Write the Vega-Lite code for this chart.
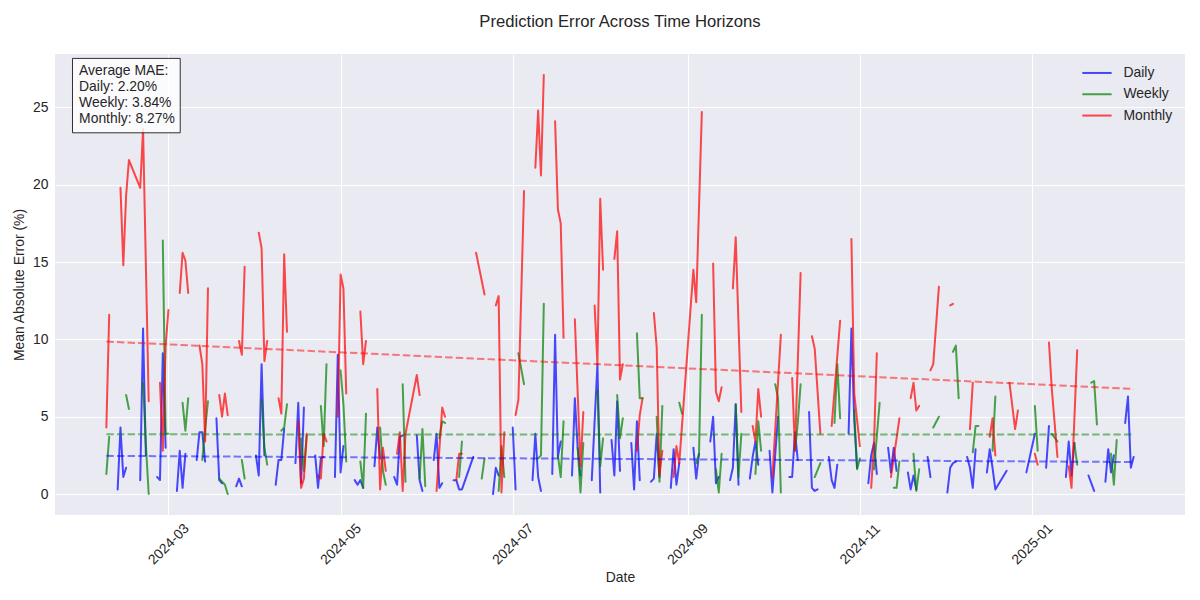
{
  "$schema": "https://vega.github.io/schema/vega-lite/v6.json",
  "width": 1130,
  "height": 461,
  "autosize": {"type": "none"},
  "padding": {"left": 55, "top": 54, "right": 15, "bottom": 85},
  "background": "white",
  "title": {"text": "Prediction Error Across Time Horizons", "fontSize": 16.67, "fontWeight": "normal", "color": "#262626", "offset": 23, "font": "Liberation Sans", "anchor": "middle"},
  "config": {
    "view": {"fill": "#EAEAF2", "stroke": null},
    "font": "Liberation Sans",
    "axis": {"grid": true, "gridColor": "#FFFFFF", "gridWidth": 1, "gridOpacity": 1, "domain": false, "ticks": false, "labelFont": "Liberation Sans", "labelFontSize": 13.9, "labelColor": "#262626", "titleFont": "Liberation Sans", "titleFontSize": 13.9, "titleColor": "#262626", "titleFontWeight": "normal"},
    "legend": {"orient": "top-right", "offset": 12, "padding": 0, "rowPadding": 6.3, "symbolType": "M-2.93,0H2.93", "symbolSize": 100, "symbolStrokeWidth": 2, "symbolOpacity": 0.7, "labelFontSize": 13.9, "labelFont": "Liberation Sans", "labelColor": "#262626", "labelOffset": 19.6}
  },
  "datasets": {
    "daily": [
      {"d":"2024-02-12","v":0.3},{"d":"2024-02-13","v":4.3},{"d":"2024-02-14","v":1.1},{"d":"2024-02-15","v":1.7},{"d":"2024-02-16","v":null},
      {"d":"2024-02-20","v":0.9},{"d":"2024-02-21","v":10.7},{"d":"2024-02-22","v":2.5},{"d":"2024-02-23","v":null},
      {"d":"2024-02-26","v":1.1},{"d":"2024-02-27","v":0.9},{"d":"2024-02-28","v":9.1},{"d":"2024-02-29","v":3.0},{"d":"2024-03-01","v":null},
      {"d":"2024-03-04","v":0.2},{"d":"2024-03-05","v":2.8},{"d":"2024-03-06","v":0.4},{"d":"2024-03-07","v":2.6},{"d":"2024-03-08","v":null},
      {"d":"2024-03-11","v":2.2},{"d":"2024-03-12","v":4.0},{"d":"2024-03-13","v":4.0},{"d":"2024-03-14","v":2.1},{"d":"2024-03-15","v":null},
      {"d":"2024-03-18","v":4.9},{"d":"2024-03-19","v":0.9},{"d":"2024-03-20","v":0.7},{"d":"2024-03-21","v":null},
      {"d":"2024-03-25","v":0.5},{"d":"2024-03-26","v":1.0},{"d":"2024-03-27","v":0.5},{"d":"2024-03-28","v":null},
      {"d":"2024-04-01","v":2.5},{"d":"2024-04-02","v":1.2},{"d":"2024-04-03","v":8.4},{"d":"2024-04-04","v":2.5},{"d":"2024-04-05","v":null},
      {"d":"2024-04-08","v":0.6},{"d":"2024-04-09","v":2.2},{"d":"2024-04-10","v":2.2},{"d":"2024-04-11","v":4.2},{"d":"2024-04-12","v":null},
      {"d":"2024-04-15","v":2.0},{"d":"2024-04-16","v":5.9},{"d":"2024-04-17","v":0.7},{"d":"2024-04-18","v":5.6},{"d":"2024-04-19","v":null},
      {"d":"2024-04-22","v":2.5},{"d":"2024-04-23","v":0.4},{"d":"2024-04-24","v":2.3},{"d":"2024-04-25","v":2.4},{"d":"2024-04-26","v":null},
      {"d":"2024-04-29","v":1.1},{"d":"2024-04-30","v":9.0},{"d":"2024-05-01","v":1.4},{"d":"2024-05-02","v":3.1},{"d":"2024-05-03","v":null},
      {"d":"2024-05-06","v":0.9},{"d":"2024-05-07","v":0.6},{"d":"2024-05-08","v":0.9},{"d":"2024-05-09","v":0.4},{"d":"2024-05-10","v":null},
      {"d":"2024-05-13","v":1.8},{"d":"2024-05-14","v":4.3},{"d":"2024-05-15","v":2.3},{"d":"2024-05-16","v":null},
      {"d":"2024-05-20","v":1.1},{"d":"2024-05-21","v":0.6},{"d":"2024-05-22","v":3.7},{"d":"2024-05-23","v":3.8},{"d":"2024-05-24","v":null},
      {"d":"2024-05-28","v":3.8},{"d":"2024-05-29","v":0.9},{"d":"2024-05-30","v":0.2},{"d":"2024-05-31","v":null},
      {"d":"2024-06-03","v":2.2},{"d":"2024-06-04","v":3.9},{"d":"2024-06-05","v":0.4},{"d":"2024-06-06","v":0.7},{"d":"2024-06-07","v":null},
      {"d":"2024-06-10","v":0.9},{"d":"2024-06-11","v":0.9},{"d":"2024-06-12","v":0.3},{"d":"2024-06-13","v":0.3},{"d":"2024-06-17","v":2.4},{"d":"2024-06-18","v":null},
      {"d":"2024-06-24","v":0.0},{"d":"2024-06-25","v":1.7},{"d":"2024-06-26","v":1.2},{"d":"2024-06-27","v":null},
      {"d":"2024-07-01","v":4.3},{"d":"2024-07-02","v":0.3},{"d":"2024-07-03","v":null},
      {"d":"2024-07-08","v":0.9},{"d":"2024-07-09","v":3.9},{"d":"2024-07-10","v":1.1},{"d":"2024-07-11","v":0.2},{"d":"2024-07-12","v":null},
      {"d":"2024-07-15","v":1.3},{"d":"2024-07-16","v":10.3},{"d":"2024-07-17","v":2.4},{"d":"2024-07-18","v":3.4},{"d":"2024-07-19","v":null},
      {"d":"2024-07-22","v":1.2},{"d":"2024-07-23","v":6.2},{"d":"2024-07-24","v":3.0},{"d":"2024-07-25","v":1.2},{"d":"2024-07-26","v":null},
      {"d":"2024-07-29","v":0.9},{"d":"2024-07-31","v":8.4},{"d":"2024-08-01","v":0.1},{"d":"2024-08-02","v":null},
      {"d":"2024-08-05","v":3.5},{"d":"2024-08-06","v":1.2},{"d":"2024-08-07","v":6.0},{"d":"2024-08-08","v":1.5},{"d":"2024-08-09","v":null},
      {"d":"2024-08-12","v":3.3},{"d":"2024-08-13","v":0.3},{"d":"2024-08-14","v":4.7},{"d":"2024-08-15","v":0.9},{"d":"2024-08-16","v":null},
      {"d":"2024-08-19","v":0.8},{"d":"2024-08-20","v":1.0},{"d":"2024-08-21","v":3.9},{"d":"2024-08-22","v":1.1},{"d":"2024-08-23","v":null},
      {"d":"2024-08-26","v":0.4},{"d":"2024-08-27","v":2.9},{"d":"2024-08-28","v":0.6},{"d":"2024-08-29","v":2.0},{"d":"2024-08-30","v":null},
      {"d":"2024-09-03","v":3.0},{"d":"2024-09-04","v":1.0},{"d":"2024-09-05","v":2.6},{"d":"2024-09-06","v":null},
      {"d":"2024-09-09","v":3.4},{"d":"2024-09-10","v":5.0},{"d":"2024-09-11","v":0.7},{"d":"2024-09-12","v":1.1},{"d":"2024-09-13","v":null},
      {"d":"2024-09-16","v":0.9},{"d":"2024-09-17","v":1.7},{"d":"2024-09-18","v":5.8},{"d":"2024-09-19","v":0.6},{"d":"2024-09-20","v":null},
      {"d":"2024-09-23","v":1.0},{"d":"2024-09-24","v":2.4},{"d":"2024-09-25","v":3.4},{"d":"2024-09-26","v":1.9},{"d":"2024-09-27","v":null},
      {"d":"2024-09-30","v":2.8},{"d":"2024-10-01","v":0.1},{"d":"2024-10-03","v":5.0},{"d":"2024-10-04","v":null},
      {"d":"2024-10-07","v":1.1},{"d":"2024-10-08","v":1.1},{"d":"2024-10-09","v":4.0},{"d":"2024-10-10","v":2.2},{"d":"2024-10-11","v":null},
      {"d":"2024-10-14","v":5.3},{"d":"2024-10-15","v":0.4},{"d":"2024-10-16","v":0.2},{"d":"2024-10-17","v":0.3},{"d":"2024-10-18","v":null},
      {"d":"2024-10-21","v":2.4},{"d":"2024-10-22","v":0.9},{"d":"2024-10-23","v":0.4},{"d":"2024-10-24","v":1.9},{"d":"2024-10-25","v":null},
      {"d":"2024-10-28","v":3.9},{"d":"2024-10-29","v":10.7},{"d":"2024-10-30","v":4.8},{"d":"2024-10-31","v":1.7},{"d":"2024-11-01","v":null},
      {"d":"2024-11-04","v":0.7},{"d":"2024-11-05","v":2.5},{"d":"2024-11-06","v":3.3},{"d":"2024-11-07","v":1.3},{"d":"2024-11-08","v":null},
      {"d":"2024-11-11","v":3.0},{"d":"2024-11-12","v":1.4},{"d":"2024-11-13","v":3.0},{"d":"2024-11-14","v":1.5},{"d":"2024-11-15","v":null},
      {"d":"2024-11-18","v":1.4},{"d":"2024-11-19","v":0.3},{"d":"2024-11-20","v":1.2},{"d":"2024-11-21","v":0.3},{"d":"2024-11-22","v":null},
      {"d":"2024-11-25","v":2.4},{"d":"2024-11-26","v":1.1},{"d":"2024-11-27","v":null},
      {"d":"2024-12-02","v":0.1},{"d":"2024-12-03","v":1.7},{"d":"2024-12-04","v":2.0},{"d":"2024-12-05","v":2.1},{"d":"2024-12-06","v":null},
      {"d":"2024-12-09","v":2.4},{"d":"2024-12-10","v":1.7},{"d":"2024-12-11","v":0.4},{"d":"2024-12-12","v":2.9},{"d":"2024-12-13","v":null},
      {"d":"2024-12-16","v":1.4},{"d":"2024-12-17","v":2.9},{"d":"2024-12-18","v":1.7},{"d":"2024-12-19","v":0.3},{"d":"2024-12-23","v":1.5},{"d":"2024-12-24","v":null},
      {"d":"2024-12-30","v":1.4},{"d":"2025-01-02","v":3.9},{"d":"2025-01-03","v":null},
      {"d":"2025-01-06","v":1.7},{"d":"2025-01-07","v":4.4},{"d":"2025-01-08","v":null},
      {"d":"2025-01-13","v":1.1},{"d":"2025-01-14","v":3.4},{"d":"2025-01-15","v":1.2},{"d":"2025-01-16","v":3.3},{"d":"2025-01-17","v":null},
      {"d":"2025-01-21","v":1.2},{"d":"2025-01-23","v":0.2},{"d":"2025-01-24","v":null},
      {"d":"2025-01-27","v":0.8},{"d":"2025-01-28","v":2.9},{"d":"2025-01-29","v":1.4},{"d":"2025-01-30","v":2.5},{"d":"2025-01-31","v":null},
      {"d":"2025-02-03","v":4.6},{"d":"2025-02-04","v":6.3},{"d":"2025-02-05","v":1.7},{"d":"2025-02-06","v":2.4}
    ],
    "weekly": [
      {"d":"2024-02-08","v":1.3},{"d":"2024-02-09","v":3.7},{"d":"2024-02-10","v":null},
      {"d":"2024-02-15","v":6.4},{"d":"2024-02-16","v":5.5},{"d":"2024-02-17","v":null},
      {"d":"2024-02-21","v":7.2},{"d":"2024-02-22","v":3.2},{"d":"2024-02-23","v":0.0},{"d":"2024-02-24","v":null},
      {"d":"2024-02-28","v":16.4},{"d":"2024-02-29","v":3.9},{"d":"2024-03-01","v":3.9},{"d":"2024-03-02","v":null},
      {"d":"2024-03-06","v":5.9},{"d":"2024-03-07","v":4.1},{"d":"2024-03-08","v":6.2},{"d":"2024-03-09","v":null},
      {"d":"2024-03-13","v":2.2},{"d":"2024-03-14","v":4.2},{"d":"2024-03-15","v":6.0},{"d":"2024-03-16","v":null},
      {"d":"2024-03-19","v":1.0},{"d":"2024-03-21","v":0.6},{"d":"2024-03-22","v":0.0},{"d":"2024-03-23","v":null},
      {"d":"2024-03-27","v":2.2},{"d":"2024-03-28","v":1.0},{"d":"2024-03-29","v":null},
      {"d":"2024-04-03","v":6.1},{"d":"2024-04-04","v":3.0},{"d":"2024-04-05","v":1.9},{"d":"2024-04-06","v":null},
      {"d":"2024-04-10","v":4.1},{"d":"2024-04-11","v":4.3},{"d":"2024-04-12","v":5.8},{"d":"2024-04-13","v":null},
      {"d":"2024-04-17","v":3.6},{"d":"2024-04-18","v":1.5},{"d":"2024-04-19","v":3.8},{"d":"2024-04-20","v":null},
      {"d":"2024-04-24","v":5.7},{"d":"2024-04-25","v":3.1},{"d":"2024-04-26","v":8.4},{"d":"2024-04-27","v":null},
      {"d":"2024-05-01","v":8.0},{"d":"2024-05-02","v":5.8},{"d":"2024-05-03","v":2.1},{"d":"2024-05-04","v":null},
      {"d":"2024-05-08","v":2.1},{"d":"2024-05-09","v":0.4},{"d":"2024-05-10","v":5.2},{"d":"2024-05-11","v":null},
      {"d":"2024-05-15","v":4.3},{"d":"2024-05-16","v":1.5},{"d":"2024-05-17","v":0.6},{"d":"2024-05-18","v":null},
      {"d":"2024-05-23","v":7.1},{"d":"2024-05-24","v":0.8},{"d":"2024-05-25","v":null},
      {"d":"2024-05-29","v":1.0},{"d":"2024-05-30","v":4.2},{"d":"2024-05-31","v":0.5},{"d":"2024-06-01","v":null},
      {"d":"2024-06-05","v":3.6},{"d":"2024-06-06","v":4.7},{"d":"2024-06-07","v":4.6},{"d":"2024-06-08","v":null},
      {"d":"2024-06-12","v":1.1},{"d":"2024-06-13","v":3.4},{"d":"2024-06-14","v":null},
      {"d":"2024-06-20","v":1.0},{"d":"2024-06-21","v":2.3},{"d":"2024-06-22","v":null},
      {"d":"2024-06-26","v":0.2},{"d":"2024-06-27","v":3.1},{"d":"2024-06-28","v":1.1},{"d":"2024-06-29","v":null},
      {"d":"2024-07-03","v":9.1},{"d":"2024-07-05","v":7.1},{"d":"2024-07-06","v":null},
      {"d":"2024-07-10","v":2.3},{"d":"2024-07-11","v":2.5},{"d":"2024-07-12","v":12.3},{"d":"2024-07-13","v":null},
      {"d":"2024-07-17","v":2.5},{"d":"2024-07-18","v":1.1},{"d":"2024-07-19","v":4.7},{"d":"2024-07-20","v":null},
      {"d":"2024-07-24","v":3.0},{"d":"2024-07-25","v":0.1},{"d":"2024-07-26","v":3.3},{"d":"2024-07-27","v":null},
      {"d":"2024-07-31","v":6.7},{"d":"2024-08-01","v":1.8},{"d":"2024-08-02","v":3.6},{"d":"2024-08-03","v":null},
      {"d":"2024-08-07","v":6.4},{"d":"2024-08-08","v":3.6},{"d":"2024-08-09","v":4.9},{"d":"2024-08-10","v":null},
      {"d":"2024-08-14","v":10.4},{"d":"2024-08-15","v":6.2},{"d":"2024-08-16","v":6.2},{"d":"2024-08-17","v":null},
      {"d":"2024-08-21","v":5.0},{"d":"2024-08-22","v":0.8},{"d":"2024-08-23","v":5.7},{"d":"2024-08-24","v":null},
      {"d":"2024-08-29","v":5.9},{"d":"2024-08-30","v":5.2},{"d":"2024-08-31","v":null},
      {"d":"2024-09-04","v":2.0},{"d":"2024-09-05","v":2.6},{"d":"2024-09-06","v":11.6},{"d":"2024-09-07","v":null},
      {"d":"2024-09-11","v":1.6},{"d":"2024-09-12","v":0.1},{"d":"2024-09-13","v":2.6},{"d":"2024-09-14","v":null},
      {"d":"2024-09-18","v":5.8},{"d":"2024-09-19","v":1.1},{"d":"2024-09-20","v":3.9},{"d":"2024-09-21","v":null},
      {"d":"2024-09-25","v":1.3},{"d":"2024-09-26","v":4.7},{"d":"2024-09-27","v":2.8},{"d":"2024-09-28","v":null},
      {"d":"2024-10-02","v":7.1},{"d":"2024-10-03","v":6.2},{"d":"2024-10-04","v":0.1},{"d":"2024-10-05","v":null},
      {"d":"2024-10-09","v":2.8},{"d":"2024-10-10","v":4.6},{"d":"2024-10-11","v":7.1},{"d":"2024-10-12","v":null},
      {"d":"2024-10-16","v":1.1},{"d":"2024-10-18","v":2.0},{"d":"2024-10-19","v":null},
      {"d":"2024-10-23","v":4.6},{"d":"2024-10-24","v":8.4},{"d":"2024-10-25","v":4.9},{"d":"2024-10-26","v":null},
      {"d":"2024-10-30","v":5.4},{"d":"2024-10-31","v":1.6},{"d":"2024-11-01","v":2.3},{"d":"2024-11-02","v":null},
      {"d":"2024-11-06","v":1.6},{"d":"2024-11-08","v":5.9},{"d":"2024-11-09","v":null},
      {"d":"2024-11-13","v":0.4},{"d":"2024-11-14","v":0.4},{"d":"2024-11-15","v":2.1},{"d":"2024-11-16","v":null},
      {"d":"2024-11-20","v":2.6},{"d":"2024-11-21","v":0.2},{"d":"2024-11-22","v":1.6},{"d":"2024-11-23","v":null},
      {"d":"2024-11-27","v":4.3},{"d":"2024-11-29","v":5.0},{"d":"2024-11-30","v":null},
      {"d":"2024-12-04","v":9.2},{"d":"2024-12-05","v":9.6},{"d":"2024-12-06","v":6.2},{"d":"2024-12-07","v":null},
      {"d":"2024-12-11","v":2.7},{"d":"2024-12-12","v":4.4},{"d":"2024-12-13","v":4.4},{"d":"2024-12-14","v":null},
      {"d":"2024-12-18","v":2.8},{"d":"2024-12-19","v":6.3},{"d":"2024-12-20","v":null},
      {"d":"2025-01-02","v":5.7},{"d":"2025-01-03","v":2.8},{"d":"2025-01-04","v":null},
      {"d":"2025-01-08","v":3.9},{"d":"2025-01-10","v":3.4},{"d":"2025-01-11","v":null},
      {"d":"2025-01-16","v":3.3},{"d":"2025-01-17","v":1.9},{"d":"2025-01-18","v":null},
      {"d":"2025-01-22","v":7.2},{"d":"2025-01-23","v":7.3},{"d":"2025-01-24","v":4.5},{"d":"2025-01-25","v":null},
      {"d":"2025-01-29","v":2.6},{"d":"2025-01-30","v":0.6},{"d":"2025-01-31","v":3.5}
    ],
    "monthly": [
      {"d":"2024-02-08","v":4.3},{"d":"2024-02-09","v":11.6},{"d":"2024-02-10","v":null},
      {"d":"2024-02-13","v":19.8},{"d":"2024-02-14","v":14.8},{"d":"2024-02-15","v":19.3},{"d":"2024-02-16","v":21.6},{"d":"2024-02-20","v":19.8},{"d":"2024-02-21","v":23.6},{"d":"2024-02-23","v":6.0},{"d":"2024-02-24","v":null},
      {"d":"2024-02-27","v":7.2},{"d":"2024-02-28","v":2.8},{"d":"2024-02-29","v":9.6},{"d":"2024-03-01","v":11.9},{"d":"2024-03-02","v":null},
      {"d":"2024-03-05","v":13.0},{"d":"2024-03-06","v":15.6},{"d":"2024-03-07","v":15.1},{"d":"2024-03-08","v":13.0},{"d":"2024-03-09","v":null},
      {"d":"2024-03-12","v":9.6},{"d":"2024-03-13","v":8.4},{"d":"2024-03-14","v":3.4},{"d":"2024-03-15","v":13.3},{"d":"2024-03-16","v":null},
      {"d":"2024-03-19","v":6.4},{"d":"2024-03-20","v":5.0},{"d":"2024-03-21","v":6.5},{"d":"2024-03-22","v":5.1},{"d":"2024-03-23","v":null},
      {"d":"2024-03-26","v":9.9},{"d":"2024-03-27","v":9.0},{"d":"2024-03-28","v":14.7},{"d":"2024-03-29","v":null},
      {"d":"2024-04-02","v":16.9},{"d":"2024-04-03","v":15.9},{"d":"2024-04-04","v":8.6},{"d":"2024-04-05","v":9.9},{"d":"2024-04-06","v":null},
      {"d":"2024-04-09","v":6.2},{"d":"2024-04-10","v":5.2},{"d":"2024-04-11","v":15.5},{"d":"2024-04-12","v":10.5},{"d":"2024-04-13","v":null},
      {"d":"2024-04-16","v":4.7},{"d":"2024-04-17","v":0.4},{"d":"2024-04-18","v":1.0},{"d":"2024-04-19","v":3.9},{"d":"2024-04-20","v":null},
      {"d":"2024-04-23","v":1.2},{"d":"2024-04-24","v":1.0},{"d":"2024-04-25","v":3.9},{"d":"2024-04-26","v":3.4},{"d":"2024-04-27","v":null},
      {"d":"2024-04-30","v":5.0},{"d":"2024-05-01","v":14.2},{"d":"2024-05-02","v":13.3},{"d":"2024-05-03","v":6.5},{"d":"2024-05-04","v":null},
      {"d":"2024-05-08","v":11.8},{"d":"2024-05-09","v":8.4},{"d":"2024-05-10","v":9.9},{"d":"2024-05-11","v":null},
      {"d":"2024-05-14","v":6.8},{"d":"2024-05-15","v":0.3},{"d":"2024-05-16","v":3.0},{"d":"2024-05-17","v":1.5},{"d":"2024-05-18","v":null},
      {"d":"2024-05-21","v":2.6},{"d":"2024-05-22","v":4.0},{"d":"2024-05-23","v":0.2},{"d":"2024-05-24","v":3.9},{"d":"2024-05-28","v":7.7},{"d":"2024-05-29","v":6.4},{"d":"2024-05-30","v":null},
      {"d":"2024-06-04","v":0.2},{"d":"2024-06-06","v":5.6},{"d":"2024-06-07","v":5.0},{"d":"2024-06-08","v":null},
      {"d":"2024-06-11","v":0.9},{"d":"2024-06-12","v":2.6},{"d":"2024-06-13","v":2.6},{"d":"2024-06-14","v":null},
      {"d":"2024-06-18","v":15.6},{"d":"2024-06-21","v":12.9},{"d":"2024-06-22","v":null},
      {"d":"2024-06-25","v":12.2},{"d":"2024-06-26","v":12.8},{"d":"2024-06-27","v":0.1},{"d":"2024-06-28","v":4.0},{"d":"2024-06-29","v":null},
      {"d":"2024-07-02","v":5.1},{"d":"2024-07-03","v":6.1},{"d":"2024-07-05","v":19.6},{"d":"2024-07-06","v":null},
      {"d":"2024-07-09","v":21.1},{"d":"2024-07-10","v":24.8},{"d":"2024-07-11","v":20.6},{"d":"2024-07-12","v":27.1},{"d":"2024-07-13","v":null},
      {"d":"2024-07-16","v":24.1},{"d":"2024-07-17","v":18.4},{"d":"2024-07-18","v":17.5},{"d":"2024-07-19","v":10.1},{"d":"2024-07-20","v":null},
      {"d":"2024-07-23","v":11.3},{"d":"2024-07-25","v":1.8},{"d":"2024-07-26","v":5.3},{"d":"2024-07-27","v":null},
      {"d":"2024-07-30","v":12.2},{"d":"2024-07-31","v":8.4},{"d":"2024-08-01","v":19.1},{"d":"2024-08-02","v":14.5},{"d":"2024-08-03","v":null},
      {"d":"2024-08-06","v":15.2},{"d":"2024-08-07","v":17.0},{"d":"2024-08-08","v":7.4},{"d":"2024-08-09","v":8.4},{"d":"2024-08-10","v":null},
      {"d":"2024-08-14","v":2.8},{"d":"2024-08-15","v":5.1},{"d":"2024-08-16","v":6.2},{"d":"2024-08-17","v":null},
      {"d":"2024-08-20","v":11.7},{"d":"2024-08-21","v":9.5},{"d":"2024-08-22","v":1.2},{"d":"2024-08-23","v":2.8},{"d":"2024-08-24","v":null},
      {"d":"2024-08-27","v":1.1},{"d":"2024-08-28","v":3.1},{"d":"2024-08-29","v":2.0},{"d":"2024-09-03","v":14.5},{"d":"2024-09-04","v":12.4},{"d":"2024-09-06","v":24.7},{"d":"2024-09-07","v":null},
      {"d":"2024-09-10","v":14.9},{"d":"2024-09-11","v":6.6},{"d":"2024-09-12","v":6.0},{"d":"2024-09-13","v":6.9},{"d":"2024-09-14","v":null},
      {"d":"2024-09-17","v":13.3},{"d":"2024-09-18","v":16.6},{"d":"2024-09-20","v":5.3},{"d":"2024-09-21","v":null},
      {"d":"2024-09-24","v":4.4},{"d":"2024-09-25","v":3.4},{"d":"2024-09-26","v":6.8},{"d":"2024-09-27","v":5.0},{"d":"2024-09-28","v":null},
      {"d":"2024-10-01","v":1.1},{"d":"2024-10-04","v":10.3},{"d":"2024-10-05","v":null},
      {"d":"2024-10-08","v":7.5},{"d":"2024-10-09","v":2.8},{"d":"2024-10-11","v":14.3},{"d":"2024-10-12","v":null},
      {"d":"2024-10-15","v":10.2},{"d":"2024-10-16","v":9.4},{"d":"2024-10-18","v":3.9},{"d":"2024-10-19","v":null},
      {"d":"2024-10-22","v":4.4},{"d":"2024-10-25","v":11.2},{"d":"2024-10-26","v":null},
      {"d":"2024-10-29","v":16.5},{"d":"2024-10-30","v":6.5},{"d":"2024-11-01","v":3.1},{"d":"2024-11-02","v":null},
      {"d":"2024-11-05","v":0.4},{"d":"2024-11-06","v":3.3},{"d":"2024-11-07","v":9.1},{"d":"2024-11-08","v":null},
      {"d":"2024-11-12","v":1.1},{"d":"2024-11-14","v":3.6},{"d":"2024-11-15","v":4.9},{"d":"2024-11-16","v":null},
      {"d":"2024-11-19","v":6.2},{"d":"2024-11-20","v":7.2},{"d":"2024-11-21","v":5.4},{"d":"2024-11-22","v":5.7},{"d":"2024-11-23","v":null},
      {"d":"2024-11-26","v":8.0},{"d":"2024-11-27","v":8.4},{"d":"2024-11-29","v":13.4},{"d":"2024-11-30","v":null},
      {"d":"2024-12-03","v":12.2},{"d":"2024-12-04","v":12.3},{"d":"2024-12-05","v":null},
      {"d":"2024-12-10","v":4.2},{"d":"2024-12-11","v":7.2},{"d":"2024-12-12","v":null},
      {"d":"2024-12-17","v":3.7},{"d":"2024-12-18","v":4.9},{"d":"2024-12-19","v":2.5},{"d":"2024-12-20","v":null},
      {"d":"2024-12-24","v":7.2},{"d":"2024-12-26","v":4.2},{"d":"2024-12-27","v":5.4},{"d":"2024-12-28","v":null},
      {"d":"2025-01-02","v":2.6},{"d":"2025-01-03","v":1.9},{"d":"2025-01-04","v":null},
      {"d":"2025-01-07","v":9.8},{"d":"2025-01-08","v":6.8},{"d":"2025-01-09","v":4.6},{"d":"2025-01-10","v":2.4},{"d":"2025-01-11","v":null},
      {"d":"2025-01-14","v":1.8},{"d":"2025-01-15","v":0.4},{"d":"2025-01-17","v":9.3}
    ],
    "trend": [
      {"d":"2024-02-08","s":"Daily","v":2.47},{"d":"2025-02-06","s":"Daily","v":2.07},
      {"d":"2024-02-08","s":"Weekly","v":3.86},{"d":"2025-02-06","s":"Weekly","v":3.85},
      {"d":"2024-02-08","s":"Monthly","v":9.86},{"d":"2025-02-06","s":"Monthly","v":6.80}
    ],
    "note": [
      {"t": "Average MAE:\nDaily: 2.20%\nWeekly: 3.84%\nMonthly: 8.27%"}
    ]
  },
  "layer": [
    {"data": {"name": "daily"}, "mark": {"type": "line", "strokeWidth": 2, "opacity": 0.7, "strokeCap": "round", "strokeJoin": "round"},
      "encoding": {
        "x": {"field": "d", "type": "temporal",
          "scale": {"type": "utc", "domain": [{"year": 2024, "month": 1, "date": 20, "hours": 19, "minutes": 12, "utc": true}, {"year": 2025, "month": 2, "date": 24, "hours": 4, "minutes": 48, "utc": true}]},
          "axis": {"values": [{"year": 2024, "month": 3, "date": 1, "utc": true}, {"year": 2024, "month": 5, "date": 1, "utc": true}, {"year": 2024, "month": 7, "date": 1, "utc": true}, {"year": 2024, "month": 9, "date": 1, "utc": true}, {"year": 2024, "month": 11, "date": 1, "utc": true}, {"year": 2025, "month": 1, "date": 1, "utc": true}],
            "format": "%Y-%m", "labelAngle": -45, "labelAlign": "center", "labelBaseline": "middle", "labelPadding": 29, "labelFlush": false, "labelOverlap": false, "title": "Date", "titlePadding": 4}},
        "y": {"field": "v", "type": "quantitative",
          "scale": {"domain": [-1.355, 28.455], "nice": false, "zero": false},
          "axis": {"values": [0, 5, 10, 15, 20, 25], "format": "d", "title": "Mean Absolute Error (%)", "labelPadding": 7, "titlePadding": 6}},
        "color": {"datum": "Daily", "type": "nominal", "scale": {"domain": ["Daily", "Weekly", "Monthly"], "range": ["#0000FF", "#008000", "#FF0000"]}, "legend": {"title": null}}}},
    {"data": {"name": "weekly"}, "mark": {"type": "line", "strokeWidth": 2, "opacity": 0.7, "strokeCap": "round", "strokeJoin": "round"},
      "encoding": {"x": {"field": "d", "type": "temporal"}, "y": {"field": "v", "type": "quantitative"}, "color": {"datum": "Weekly", "type": "nominal"}}},
    {"data": {"name": "monthly"}, "mark": {"type": "line", "strokeWidth": 2, "opacity": 0.7, "strokeCap": "round", "strokeJoin": "round"},
      "encoding": {"x": {"field": "d", "type": "temporal"}, "y": {"field": "v", "type": "quantitative"}, "color": {"datum": "Monthly", "type": "nominal"}}},
    {"data": {"name": "trend"}, "transform": [{"filter": "datum.s === 'Daily'"}], "mark": {"type": "line", "strokeWidth": 2, "opacity": 0.5, "strokeDash": [7.4, 3.2], "color": "#0000FF"},
      "encoding": {"x": {"field": "d", "type": "temporal"}, "y": {"field": "v", "type": "quantitative"}}},
    {"data": {"name": "trend"}, "transform": [{"filter": "datum.s === 'Weekly'"}], "mark": {"type": "line", "strokeWidth": 2, "opacity": 0.5, "strokeDash": [7.4, 3.2], "color": "#008000"},
      "encoding": {"x": {"field": "d", "type": "temporal"}, "y": {"field": "v", "type": "quantitative"}}},
    {"data": {"name": "trend"}, "transform": [{"filter": "datum.s === 'Monthly'"}], "mark": {"type": "line", "strokeWidth": 2, "opacity": 0.5, "strokeDash": [7.4, 3.2], "color": "#FF0000"},
      "encoding": {"x": {"field": "d", "type": "temporal"}, "y": {"field": "v", "type": "quantitative"}}},
    {"data": {"name": "note"}, "mark": {"type": "rect", "fill": "#FFFFFF", "fillOpacity": 0.8, "stroke": "#000000", "strokeOpacity": 0.8, "strokeWidth": 1},
      "encoding": {
        "x": {"datum": {"year": 2024, "month": 1, "date": 27, "utc": true}, "type": "temporal"},
        "x2": {"datum": {"year": 2024, "month": 3, "date": 5, "hours": 4, "utc": true}},
        "y": {"datum": 28.17, "type": "quantitative"},
        "y2": {"datum": 23.36}}},
    {"data": {"name": "note"},
      "mark": {"type": "text", "align": "left", "baseline": "top", "lineBreak": "\n", "fontSize": 13.9, "lineHeight": 15.9, "color": "#262626", "font": "Liberation Sans"},
      "encoding": {
        "x": {"datum": {"year": 2024, "month": 1, "date": 29, "hours": 8, "utc": true}, "type": "temporal"},
        "y": {"datum": 27.8, "type": "quantitative"},
        "text": {"field": "t", "type": "nominal"}}}
  ]
}
